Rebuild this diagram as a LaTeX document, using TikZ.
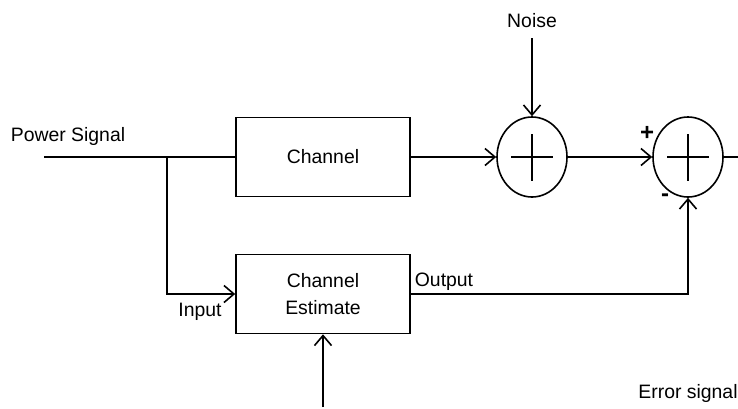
\documentclass[tikz,border=0pt]{standalone}
\usepackage{fontspec}
\setmainfont{Liberation Sans}
\usetikzlibrary{shapes.geometric,arrows.meta}
\begin{document}
\begin{tikzpicture}[x=0.5pt,y=-0.5pt,
  font=\fontsize{9.7}{13.5}\selectfont,
  wire/.style={line width=0.8pt},
  arr/.style={wire,-{Straight Barb[length=5pt,width=8.5pt,line width=0.8pt]}},
  blk/.style={draw,line width=0.8pt,minimum width=87pt,minimum height=39.5pt,inner sep=0pt,align=center},
  summer/.style={draw,line width=0.8pt,ellipse,minimum width=35pt,minimum height=40pt,inner sep=0pt},
  lbl/.style={inner sep=0pt,anchor=center}]
\useasboundingbox (0,0) rectangle (738,408);
% blocks
\node[blk] (ch) at (323,157) {Channel};
\node[blk] (est) at (323,294) {Channel\\Estimate};
\node[summer] (s1) at (532,157) {};
\node[summer] (s2) at (688,157) {};
% plus signs inside summers
\foreach \s in {s1,s2}{
  \draw[wire] ([xshift=-10.5pt]\s.center) -- ([xshift=10.5pt]\s.center);
  \draw[wire] ([yshift=-11.75pt]\s.center) -- ([yshift=11.75pt]\s.center);
}
% labels
\node[lbl] (ps) at (68,136) {Power Signal};
\node[lbl] (noise) at (532,21) {Noise};
\node[lbl] (inp) at (200,312) {Input};
\node[lbl] (outp) at (444,282) {Output};
\node[lbl] (err) at (688,393) {Error signal};
\node[lbl,font=\fontsize{12}{12}\selectfont\bfseries] (plus) at (647,133) {+};
\node[lbl,font=\fontsize{12}{12}\selectfont\bfseries] (minus) at (665,198) {-};
% coordinates
\coordinate (in) at (44,157);
\coordinate (jn) at (167,157);
\coordinate (nz) at (532,38);
\coordinate (outR) at (738,157);
\coordinate (bot) at (323,407);
% connectors
\draw[wire] (in) -- (ch.west);
\draw[arr] (jn) |- (est.west);
\draw[arr] (ch.east) -- (s1.west);
\draw[arr] (nz) -- (s1.north);
\draw[arr] (s1.east) -- (s2.west);
\draw[wire] (s2.east) -- (outR);
\draw[arr] (est.east) -| (s2.south);
\draw[arr] (bot) -- (est.south);
\end{tikzpicture}
\end{document}
